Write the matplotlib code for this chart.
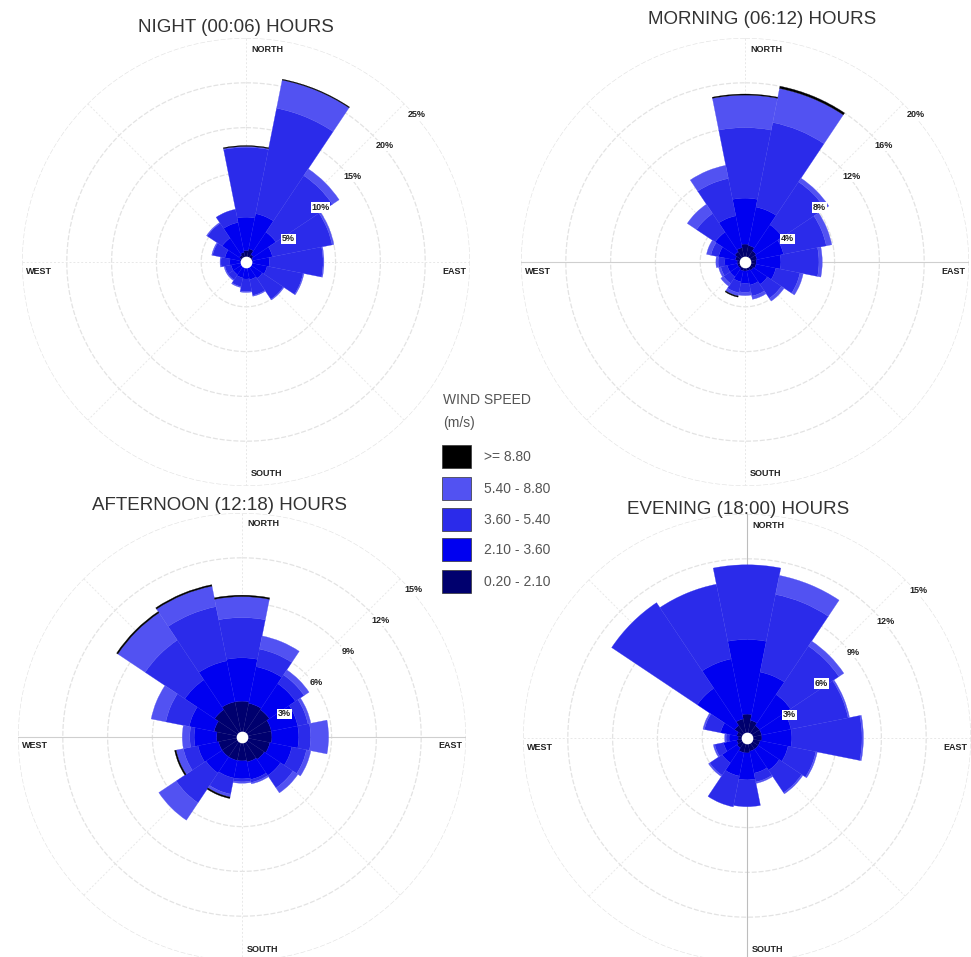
import numpy as np
import matplotlib
matplotlib.use("Agg")
import matplotlib.pyplot as plt
from matplotlib.patches import Rectangle
from matplotlib.transforms import offset_copy

plt.rcParams["font.family"] = ["Liberation Sans", "DejaVu Sans"]

W, H = 971, 957

DIRECTIONS = ["N", "NNE", "NE", "ENE", "E", "ESE", "SE", "SSE",
              "S", "SSW", "SW", "WSW", "W", "WNW", "NW", "NNW"]
SPEED_LABELS = ["0.20 - 2.10", "2.10 - 3.60", "3.60 - 5.40", "5.40 - 8.80", ">= 8.80"]
SPEED_COLORS = ["#00006e", "#0000f0", "#2b2bea", "#5252f2", "#000000"]

# frequency (%) per direction for each wind-speed class
night_0_2 = [1.3, 1.5, 1.0, 0.8, 0.7, 0.7, 0.6, 0.6, 0.6, 0.6, 0.6, 0.6, 0.6, 0.7, 0.9, 1.1]
night_2_3 = [3.7, 4.0, 3.0, 2.2, 1.9, 1.7, 1.6, 1.4, 1.3, 1.2, 1.1, 1.1, 1.2, 1.7, 2.3, 3.4]
night_3_5 = [7.8, 12.0, 7.6, 6.8, 6.0, 4.1, 2.8, 1.8, 1.4, 1.0, 0.7, 0.7, 1.0, 1.4, 2.0, 1.5]
night_5_8 = [0.1, 3.2, 0.9, 0.2, 0.1, 0.1, 0.1, 0.1, 0.1, 0.1, 0.1, 0.1, 0.1, 0.1, 0.1, 0.0]
night_8p = [0.1, 0.1, 0.0, 0.0, 0.0, 0.0, 0.0, 0.0, 0.0, 0.0, 0.0, 0.0, 0.0, 0.0, 0.0, 0.0]

morning_0_2 = [1.6, 1.5, 1.2, 1.1, 1.0, 1.0, 0.9, 0.8, 0.8, 0.8, 0.7, 0.7, 0.7, 0.9, 1.1, 1.3]
morning_2_3 = [4.1, 3.5, 2.8, 2.4, 2.2, 1.8, 1.5, 1.3, 1.1, 1.0, 0.9, 0.9, 1.1, 1.5, 2.1, 2.9]
morning_3_5 = [6.3, 7.7, 4.6, 3.9, 3.4, 2.2, 1.5, 1.0, 0.8, 1.0, 0.7, 0.6, 0.6, 0.7, 2.0, 3.4]
morning_5_8 = [2.9, 3.1, 0.4, 0.5, 0.3, 0.3, 0.3, 0.3, 0.3, 0.3, 0.3, 0.2, 0.2, 0.4, 1.0, 1.2]
morning_8p = [0.1, 0.2, 0.0, 0.0, 0.0, 0.0, 0.0, 0.0, 0.0, 0.1, 0.0, 0.0, 0.0, 0.0, 0.0, 0.0]

afternoon_0_2 = [2.4, 2.3, 2.2, 2.0, 2.0, 1.9, 1.8, 1.7, 1.6, 1.6, 1.6, 1.6, 1.7, 1.9, 2.2, 2.4]
afternoon_2_3 = [2.9, 2.5, 2.1, 1.8, 1.8, 1.5, 1.3, 1.2, 1.2, 1.2, 1.3, 1.4, 1.5, 1.7, 2.4, 2.8]
afternoon_3_5 = [2.7, 1.2, 0.7, 0.7, 0.8, 1.0, 1.0, 0.2, 0.2, 1.1, 2.4, 1.0, 0.3, 1.6, 3.2, 3.7]
afternoon_5_8 = [1.4, 0.9, 0.4, 0.2, 1.2, 0.3, 0.4, 0.1, 0.1, 0.2, 1.4, 0.5, 0.5, 1.0, 2.2, 1.4]
afternoon_8p = [0.1, 0.0, 0.0, 0.0, 0.0, 0.0, 0.0, 0.0, 0.0, 0.1, 0.0, 0.1, 0.0, 0.0, 0.1, 0.1]

evening_0_2 = [1.6, 1.2, 1.0, 1.0, 1.0, 0.9, 0.9, 0.9, 1.0, 1.0, 0.8, 0.7, 0.6, 0.7, 1.0, 1.3]
evening_2_3 = [5.0, 3.3, 2.5, 2.0, 2.0, 1.9, 1.7, 1.5, 1.8, 1.6, 1.2, 0.9, 0.6, 1.1, 3.0, 4.1]
evening_3_5 = [5.0, 5.3, 3.9, 3.9, 4.7, 1.9, 1.8, 0.6, 1.8, 2.1, 1.0, 0.6, 0.2, 1.1, 6.9, 5.1]
evening_5_8 = [0.0, 1.3, 0.4, 0.1, 0.1, 0.1, 0.1, 0.1, 0.0, 0.0, 0.1, 0.1, 0.1, 0.1, 0.0, 0.0]
evening_8p = [0.0] * 16

night_rings = [5, 10, 15, 20, 25]
morning_rings = [4, 8, 12, 16, 20]
afternoon_rings = [3, 6, 9, 12, 15]
evening_rings = [3, 6, 9, 12, 15]

ROSES = [
    dict(title="NIGHT (00:06) HOURS", center=(246, 262), title_xy=(236, 28),
         bins=[night_0_2, night_2_3, night_3_5, night_5_8, night_8p],
         rings=night_rings, axis_line=None),
    dict(title="MORNING (06:12) HOURS", center=(745, 262), title_xy=(762, 20),
         bins=[morning_0_2, morning_2_3, morning_3_5, morning_5_8, morning_8p],
         rings=morning_rings, axis_line="h"),
    dict(title="AFTERNOON (12:18) HOURS", center=(242, 737), title_xy=(220, 505),
         bins=[afternoon_0_2, afternoon_2_3, afternoon_3_5, afternoon_5_8, afternoon_8p],
         rings=afternoon_rings, axis_line="h"),
    dict(title="EVENING (18:00) HOURS", center=(747, 738), title_xy=(738, 509),
         bins=[evening_0_2, evening_2_3, evening_3_5, evening_5_8, evening_8p],
         rings=evening_rings, axis_line="v"),
]

R_PX = 224
RING_COLOR = "#e3e3e3"

fig = plt.figure(figsize=(W / 100, H / 100), dpi=100)
fig.patch.set_facecolor("white")

# overlay axes in pixel units for titles, compass words and the legend
ov = fig.add_axes([0, 0, 1, 1], zorder=10)
ov.set_xlim(0, W)
ov.set_ylim(H, 0)
ov.axis("off")
ov.patch.set_alpha(0)

theta = np.deg2rad(np.arange(len(DIRECTIONS)) * 22.5)
width = np.deg2rad(22.5)

for rose in ROSES:
    cx, cy = rose["center"]
    rect = [(cx - R_PX) / W, (H - cy - R_PX) / H, 2 * R_PX / W, 2 * R_PX / H]
    ax = fig.add_axes(rect, projection="polar")
    ax.set_theta_zero_location("N")
    ax.set_theta_direction(-1)
    rmax = rose["rings"][-1]
    ax.set_ylim(0, rmax)
    ax.set_xticks([])
    ax.set_yticks([])
    ax.grid(False)
    ax.spines["polar"].set_visible(False)
    ax.patch.set_alpha(0)

    circ = np.linspace(0, 2 * np.pi, 400)
    for r in rose["rings"]:
        ax.plot(circ, np.full_like(circ, r), color=RING_COLOR, lw=0.9,
                ls=(0, (4, 1.5)), zorder=1)
    for a in np.deg2rad(np.arange(0, 360, 45)):
        ax.plot([a, a], [0, rmax], color="#e8e8e8", lw=0.7, ls=(0, (2, 2)), zorder=1)
    if rose["axis_line"] == "h":
        for a in (np.pi / 2, 3 * np.pi / 2):
            ax.plot([a, a], [0, rmax], color="#cfcfcf", lw=0.8, zorder=1.5)
    elif rose["axis_line"] == "v":
        for a in (0, np.pi):
            ax.plot([a, a], [0, rmax], color="#bdbdbd", lw=0.8, zorder=1.5)

    bottom = np.zeros(len(DIRECTIONS))
    for vals, col in zip(rose["bins"], SPEED_COLORS):
        vals = np.asarray(vals, dtype=float)
        keep = vals > 0
        ax.bar(theta[keep], vals[keep], width=width, bottom=bottom[keep], color=col,
               edgecolor=col, linewidth=0.2, zorder=2)
        bottom += vals

    ax.scatter([0], [0], s=55, color="white", zorder=4)

    lab_tf = offset_copy(ax.transData, fig=fig, x=10, y=-8, units="dots")
    for r in rose["rings"]:
        ax.text(np.deg2rad(46), r, f"{r}%", transform=lab_tf, ha="center",
                va="center", fontsize=6.5, fontweight="bold", color="#222222",
                zorder=6, bbox=dict(facecolor="white", edgecolor="none", pad=0.6))

    ov.text(*rose["title_xy"], rose["title"], ha="center", va="center",
            fontsize=13.5, color="#333333")
    kw = dict(fontsize=6.5, fontweight="bold", color="#222222", va="center", ha="center")
    ov.text(cx + 21, cy - 213, "NORTH", **kw)
    ov.text(cx + 21, cy + 212, "SOUTH", **kw)
    ov.text(cx - 207, cy + 9, "WEST", **kw)
    ov.text(cx + 208, cy + 9, "EAST", **kw)

# legend
ov.text(443, 400, "WIND SPEED", fontsize=10, color="#555555", ha="left", va="center")
ov.text(443, 423, "(m/s)", fontsize=10, color="#555555", ha="left", va="center")
box_tops = [445, 477, 508, 538, 570]
for top, lab, col in zip(box_tops, SPEED_LABELS[::-1], SPEED_COLORS[::-1]):
    ov.add_patch(Rectangle((442, top), 29, 23, facecolor=col, edgecolor="#333333", lw=0.5))
    ov.text(484, top + 12, lab, fontsize=10, color="#555555", ha="left", va="center")

fig.savefig("out.png", dpi=100)
